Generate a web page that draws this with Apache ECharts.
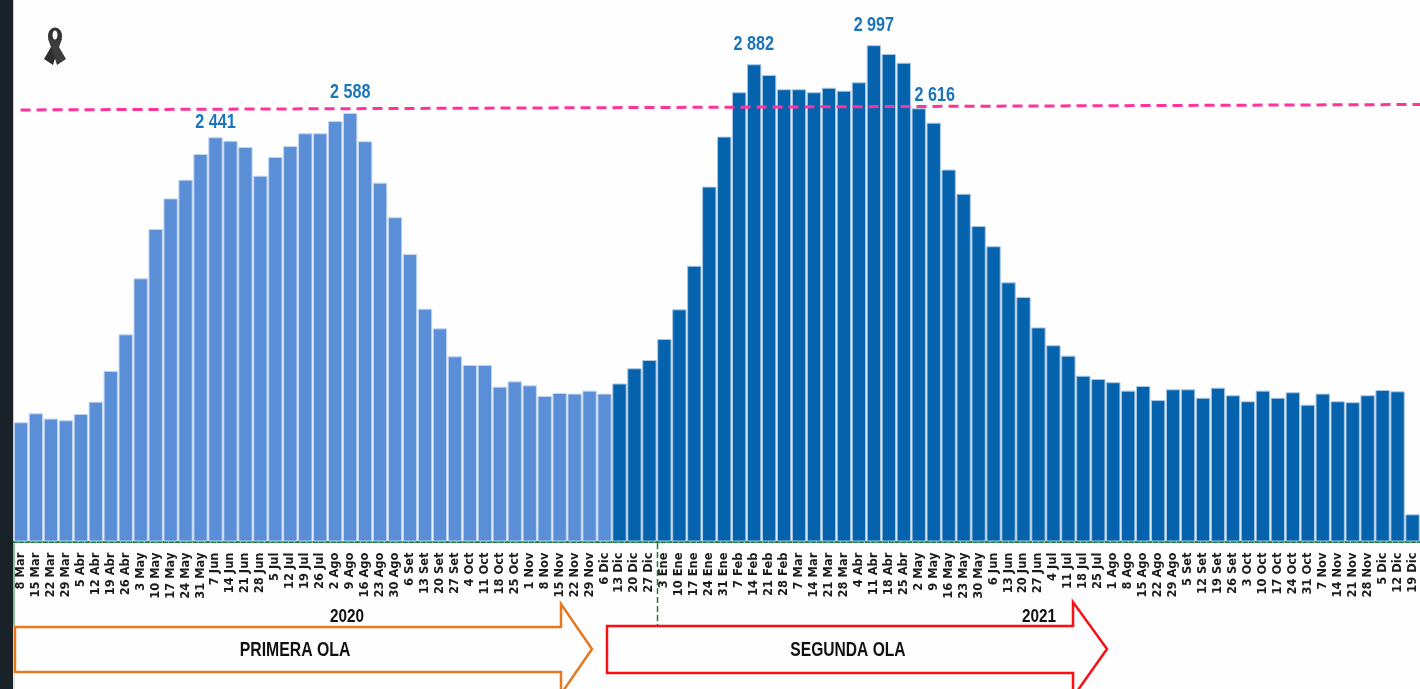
<!DOCTYPE html>
<html>
<head>
<meta charset="utf-8">
<style>html,body{margin:0;padding:0;background:#fefefe;overflow:hidden}#c{width:1420px;height:689px}</style>
<script src="https://cdn.jsdelivr.net/npm/echarts@6/dist/echarts.min.js"></script>
</head>
<body>
<div id="c"></div>
<script>
const weeks2020 = ['8 Mar','15 Mar','22 Mar','29 Mar','5 Abr','12 Abr','19 Abr','26 Abr','3 May','10 May','17 May','24 May','31 May','7 Jun','14 Jun','21 Jun','28 Jun','5 Jul','12 Jul','19 Jul','26 Jul','2 Ago','9 Ago','16 Ago','23 Ago','30 Ago','6 Set','13 Set','20 Set','27 Set','4 Oct','11 Oct','18 Oct','25 Oct','1 Nov','8 Nov','15 Nov','22 Nov','29 Nov','6 Dic','13 Dic','20 Dic','27 Dic'];
const weeks2021 = ['3 Ene','10 Ene','17 Ene','24 Ene','31 Ene','7 Feb','14 Feb','21 Feb','28 Feb','7 Mar','14 Mar','21 Mar','28 Mar','4 Abr','11 Abr','18 Abr','25 Abr','2 May','9 May','16 May','23 May','30 May','6 Jun','13 Jun','20 Jun','27 Jun','4 Jul','11 Jul','18 Jul','25 Jul','1 Ago','8 Ago','15 Ago','22 Ago','29 Ago','5 Set','12 Set','19 Set','26 Set','3 Oct','10 Oct','17 Oct','24 Oct','31 Oct','7 Nov','14 Nov','21 Nov','28 Nov','5 Dic','12 Dic','19 Dic'];
const primeraOla = [720,774,742,732,770,844,1030,1251,1589,1887,2072,2185,2340,2441,2420,2382,2209,2322,2388,2465,2465,2539,2588,2417,2167,1958,1736,1406,1287,1118,1066,1066,935,967,943,879,897,893,911,893];
const segundaOla = [954,1046,1096,1223,1402,1665,2143,2445,2713,2882,2817,2731,2731,2713,2740,2722,2773,2997,2944,2891,2616,2529,2246,2100,1905,1783,1565,1476,1293,1185,1122,1001,981,962,911,939,854,919,919,868,929,883,847,911,868,901,826,893,847,841,883,915,907,164];
const refLineX = [0.47, 94];
const refLineY = [2606, 2639];
const peakWeeks = [13, 22, 49, 57, 60];
const peakShiftX = [0, 0, -0.5, 0, 16];
const peakShiftY = [-15, -21, -20, -20, -13];

const categories = weeks2020.concat(weeks2021);
const weekly = primeraOla.concat(segundaOla);
const peakFormat = v => String(v).replace(/^(\d)(\d{3})$/, '$1 $2');
const labelFont = '"Liberation Sans",sans-serif';
const GREEN = '#1a7f3c';

function barSeries(name, values, color, edge) {
  return { name, type: 'bar', data: values, barCategoryGap: '4%', barGap: '-100%',
    itemStyle: { color, borderColor: edge, borderWidth: 1 }, silent: true };
}
const pad = n => new Array(n).fill(null);
function narrowText(text, x, y, fontSize, scaleX, z) {
  return { type: 'text', x, y, scaleX, z,
    style: { text, fontFamily: labelFont, fontWeight: 'bold', fontSize, fill: '#111', align: 'center', verticalAlign: 'middle' } };
}

const chart = echarts.init(document.getElementById('c'), null, { renderer: 'canvas' });
chart.setOption({
  animation: false,
  backgroundColor: '#fefefe',
  grid: { left: 13.5, width: 1410, top: 44.7, height: 496.8, containLabel: false },
  xAxis: [
    { type: 'category', data: categories, position: 'bottom',
      axisTick: { show: false },
      axisLine: { show: true, onZero: false, lineStyle: { color: GREEN, width: 2, type: [4, 2] } },
      axisLabel: { interval: 0, rotate: 90, margin: 11, color: '#1c1c1c', padding: [7, 0, 0, 0],
        fontFamily: '"DejaVu Sans",sans-serif', fontWeight: 'bold', fontSize: 11.5 } },
    { type: 'value', show: false, min: 0, max: 94, position: 'top' }
  ],
  yAxis: { type: 'value', min: 0, max: 3000, show: false },
  series: [
    barSeries('Primera ola', primeraOla.concat(pad(segundaOla.length)), '#5a8fd8', '#c2d5f0'),
    barSeries('Segunda ola', pad(primeraOla.length).concat(segundaOla), '#0563ad', '#a9c6e4'),
    { name: 'Referencia', type: 'line', xAxisIndex: 1, symbol: 'none', silent: true, z: 5,
      data: refLineX.map((x, i) => [x, refLineY[i]]),
      lineStyle: { color: '#ff339c', width: 3, type: [10, 6] } },
    { name: 'Picos', type: 'custom', silent: true, z: 6, clip: false,
      encode: { x: 0, y: 1 },
      data: peakWeeks.map((w, i) => [w, weekly[w], peakShiftX[i], peakShiftY[i]]),
      renderItem: (params, api) => {
        const p = api.coord([api.value(0), api.value(1)]);
        return { type: 'text', x: p[0] + api.value(2), y: p[1] + api.value(3), scaleX: 0.77,
          style: { text: peakFormat(api.value(1)), fontFamily: labelFont, fontWeight: 'bold', fontSize: 21,
            fill: '#1b75bb', align: 'center', verticalAlign: 'middle' } };
      } }
  ],
  graphic: [
    { type: 'rect', shape: { x: 0, y: 0, width: 13, height: 689 }, style: { fill: '#182228' }, z: 10 },
    { type: 'line', shape: { x1: 13.5, y1: 0, x2: 13.5, y2: 541 }, style: { stroke: '#c9cdd0', lineWidth: 1 }, z: 10 },
    { type: 'line', shape: { x1: 14, y1: 542, x2: 14, y2: 626 }, style: { stroke: GREEN, lineWidth: 1 }, z: 10 },
    { type: 'line', shape: { x1: 14, y1: 626, x2: 14, y2: 689 }, style: { stroke: '#c9cdd0', lineWidth: 1 }, z: 10 },
    { type: 'line', shape: { x1: 657.5, y1: 543, x2: 657.5, y2: 630 }, style: { stroke: GREEN, lineWidth: 1.5, lineDash: [6, 3] }, z: 10 },

    { type: 'polygon', shape: { points: [[15,627],[561,627],[561,604],[592,649],[561,694],[561,672],[15,672]] },
      style: { fill: '#fefefe', stroke: '#e8781e', lineWidth: 2.5 }, z: 11 },
    { type: 'polygon', shape: { points: [[607,626],[1073,626],[1073,602],[1107,649],[1073,697],[1073,673],[607,673]] },
      style: { fill: '#fefefe', stroke: '#fa0f14', lineWidth: 2.5 }, z: 11 },

    narrowText('2020', 347, 617, 18, 0.85, 12),
    narrowText('2021', 1039, 617, 18, 0.85, 12),
    narrowText('PRIMERA OLA', 295, 650, 20, 0.79, 12),
    narrowText('SEGUNDA OLA', 848, 650, 20, 0.78, 12),

    { type: 'ellipse', shape: { cx: 55, cy: 36, rx: 7, ry: 8.5 }, style: { fill: '#333' }, z: 12 },
    { type: 'polygon', shape: { points: [[62,39],[58,49],[53,65],[44,59],[51,47],[49,40]] }, style: { fill: '#2f2f2f' }, z: 12 },
    { type: 'polygon', shape: { points: [[48,39],[52,49],[57,65],[66,59],[59,47],[61,40]] }, style: { fill: '#3d3d3d' }, z: 12 },
    { type: 'ellipse', shape: { cx: 55, cy: 35, rx: 2.5, ry: 4.5 }, style: { fill: '#fefefe' }, z: 13 }
  ]
});
</script>
</body>
</html>
